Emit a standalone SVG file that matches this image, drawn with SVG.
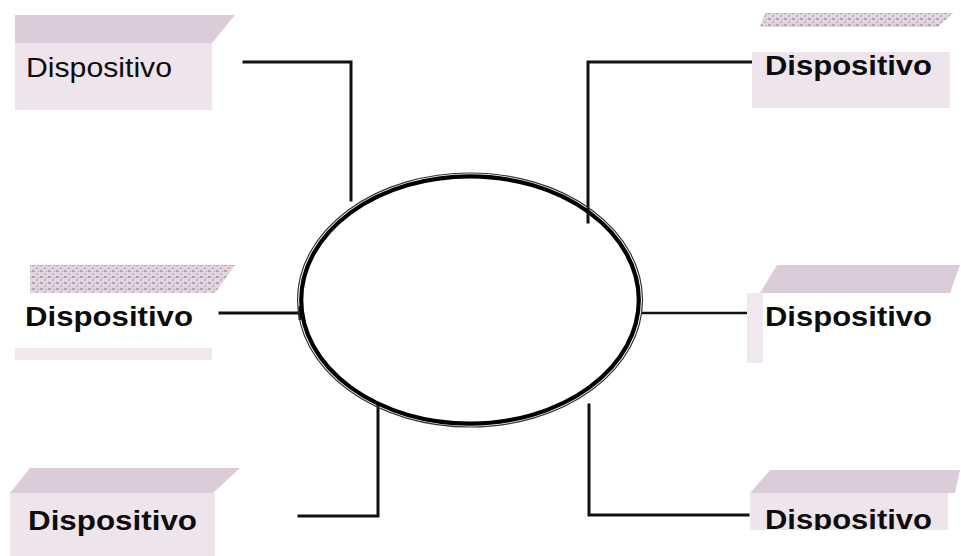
<svg xmlns="http://www.w3.org/2000/svg" width="961" height="556" viewBox="0 0 961 556">
<style>
.top{fill:#dccbd8}
.hatch{fill:url(#speck)}
.front{fill:#eee4ec}
.light{fill:#f1e8ef}
.lbl{font-family:"Liberation Sans",Arial,sans-serif;font-size:27px;fill:#0d0d0d}
.b{font-weight:bold}
.con{fill:none;stroke:#111;stroke-width:3;stroke-linecap:square}
</style>
<defs>
<pattern id="speck" width="8" height="6" patternUnits="userSpaceOnUse">
<rect width="8" height="6" fill="#e4d6e1"/>
<rect x="0" y="0" width="3" height="2" fill="#b9a2b6"/>
<rect x="4" y="3" width="2" height="2" fill="#c6b0c2"/>
<rect x="6" y="1" width="1" height="1" fill="#a88fa4"/>
</pattern>
<clipPath id="clipBR"><rect x="740" y="460" width="221" height="70"/></clipPath>
</defs>
<rect width="961" height="556" fill="#fff"/>

<g id="connectors">
<polyline class="con" points="244,62 351,62 351,200"/>
<polyline class="con" points="752,62 588,62 588,222"/>
<line class="con" x1="220" y1="313" x2="299" y2="313"/>
<line x1="300" y1="306" x2="300" y2="320" stroke="#111" stroke-width="3"/>
<line class="con" x1="643" y1="313" x2="748" y2="313" style="stroke-width:2.5"/>
<polyline class="con" points="299,516 378,516 378,405"/>
<polyline class="con" points="589,405 589,515 748,515"/>
</g>

<g id="center">
<ellipse cx="470" cy="300" rx="172.5" ry="127" fill="none" stroke="#333" stroke-width="1.2"/>
<ellipse cx="470" cy="300" rx="168.8" ry="123.6" fill="none" stroke="#000" stroke-width="4.2"/>
</g>

<g id="node-tl">
<polygon class="top" points="15,15 235,15 212,43 15,43"/>
<rect class="front" x="15" y="43" width="197" height="67"/>
<text class="lbl" x="26" y="77" textLength="146" lengthAdjust="spacingAndGlyphs">Dispositivo</text>
</g>

<g id="node-tr">
<polygon class="hatch" points="765,13 953,13 938,27 760,27"/>
<rect class="front" x="752" y="52" width="198" height="56"/>
<rect x="760" y="27" width="180" height="25" fill="#fff"/>
<text class="lbl b" x="765" y="75" textLength="167" lengthAdjust="spacingAndGlyphs">Dispositivo</text>
</g>

<g id="node-lm">
<polygon class="hatch" points="30,265 235,265 215,293 30,293"/>
<rect class="light" x="15" y="348" width="197" height="12"/>
<text class="lbl b" x="25" y="326" textLength="168" lengthAdjust="spacingAndGlyphs">Dispositivo</text>
</g>

<g id="node-rm">
<polygon class="top" points="777,265 960,265 950,293 760,293"/>
<rect class="light" x="747" y="293" width="16" height="70"/>
<text class="lbl b" x="765" y="326" textLength="167" lengthAdjust="spacingAndGlyphs">Dispositivo</text>
</g>

<g id="node-bl">
<polygon class="top" points="30,468 240,468 213,493 10,493"/>
<rect class="front" x="10" y="493" width="205" height="63"/>
<text class="lbl b" x="28" y="530" textLength="169" lengthAdjust="spacingAndGlyphs">Dispositivo</text>
</g>

<g id="node-br">
<polygon class="top" points="770,470 960,470 955,493 750,493"/>
<rect class="front" x="750" y="493" width="198" height="37"/>
<g clip-path="url(#clipBR)">
<text class="lbl b" x="765" y="529" textLength="167" lengthAdjust="spacingAndGlyphs">Dispositivo</text>
</g>
</g>
</svg>
